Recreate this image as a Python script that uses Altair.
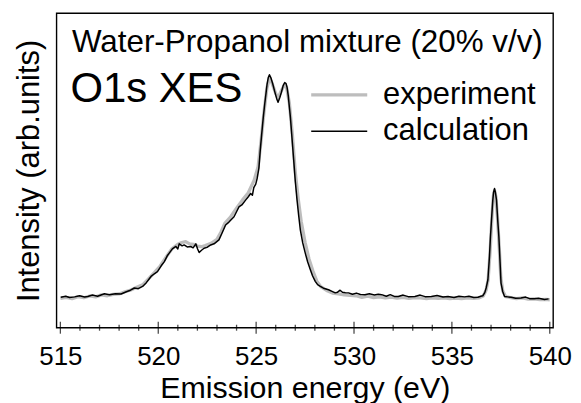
import altair as alt
import pandas as pd

FONT = "Liberation Sans"

# ---- data ----
SERIES = ["experiment", "calculation"]
SERIES_COLORS = ["#bdbdbd", "#000000"]

CALC_E = [515.02, 515.27, 515.47, 515.73, 515.98, 516.24, 516.40, 516.64, 516.90, 517.25,
          517.51, 517.81, 518.10, 518.37, 518.58, 518.78, 518.98, 519.20, 519.39, 519.63,
          519.80, 519.96, 520.15, 520.31, 520.46, 520.56, 520.72, 520.90, 521.00, 521.07,
          521.22, 521.32, 521.48, 521.66, 521.78, 521.92, 522.01, 522.09, 522.21, 522.34,
          522.49, 522.68, 522.85, 523.10, 523.26, 523.44, 523.61, 523.87, 524.12, 524.27,
          524.46, 524.58, 524.72, 524.81, 524.88, 524.98, 525.05, 525.14, 525.21, 525.27,
          525.36, 525.44, 525.51, 525.56, 525.62, 525.68, 525.75, 525.85, 525.95, 526.05,
          526.12, 526.21, 526.29, 526.38, 526.46, 526.53, 526.58, 526.64, 526.69, 526.75,
          526.83, 526.92, 527.00, 527.09, 527.17, 527.26, 527.38, 527.51, 527.63, 527.77,
          527.88, 528.02, 528.14, 528.28, 528.44, 528.70, 528.85, 529.04, 529.16, 529.29,
          529.41, 529.56, 529.72, 529.92, 530.12, 530.33, 530.56, 530.78, 531.04, 531.24,
          531.41, 531.65, 531.85, 532.06, 532.26, 532.51, 532.77, 533.11, 533.38, 533.63,
          533.95, 534.24, 534.55, 534.80, 535.11, 535.36, 535.65, 535.87, 536.12, 536.33,
          536.48, 536.58, 536.68, 536.75, 536.84, 536.92, 536.97, 537.04, 537.09, 537.13,
          537.18, 537.22, 537.28, 537.34, 537.40, 537.46, 537.51, 537.60, 537.69, 537.85,
          538.02, 538.26, 538.53, 538.77, 538.97, 539.21, 539.43, 539.73, 539.94]
CALC_I = [-0.3, 0.2, -0.4, -0.1, 0.4, -0.2, 0.1, 0.7, 0.2, 1.3,
          0.9, 1.3, 1.2, 2.2, 2.9, 3.9, 3.6, 4.6, 6.3, 9.1,
          10.3, 11.3, 13.9, 15.8, 18.4, 19.6, 21.5, 22.6, 21.5, 23.8,
          22.9, 23.3, 22.4, 22.6, 22.0, 23.8, 21.5, 19.9, 20.9, 21.8,
          22.2, 23.3, 23.8, 25.6, 28.7, 32.3, 33.6, 36.0, 40.4, 41.3,
          43.5, 44.8, 46.5, 45.7, 49.1, 50.7, 53.2, 57.8, 65.9, 71.9,
          80.3, 86.9, 92.0, 95.8, 98.7, 100.0, 98.7, 95.8, 92.4, 89.2,
          87.6, 89.7, 92.1, 95.1, 96.5, 96.0, 94.3, 90.6, 86.1, 80.9,
          71.7, 61.4, 52.0, 43.5, 36.8, 30.0, 24.2, 19.6, 15.7, 12.1,
          9.4, 6.9, 5.4, 4.6, 3.8, 3.1, 2.5, 1.7, 2.0, 2.9,
          2.0, 1.8, 1.7, 1.1, 1.6, 1.0, 0.9, 1.3, 0.7, 1.1,
          0.9, 0.2, 0.9, 0.1, 0.1, 0.7, 0.0, 0.1, 0.7, 0.0,
          0.1, 0.5, -0.2, 0.1, -0.4, 0.2, -0.1, 0.2, -0.4, -0.3,
          0.2, 0.4, 1.8, 3.9, 7.6, 18.1, 27.0, 36.8, 43.5, 47.1,
          48.7, 47.1, 43.5, 34.5, 27.0, 15.7, 6.1, 2.2, 0.1, -0.1,
          -0.3, -0.7, -0.6, -0.2, -0.9, -0.9, -0.7, -1.3, -1.0]

EXP_E = [515.0, 515.3, 515.6, 515.9, 516.2, 516.5, 516.8, 517.1, 517.4, 517.7,
         518.0, 518.3, 518.6, 518.9, 519.2, 519.5, 519.8, 520.1, 520.4, 520.7,
         521.0, 521.2, 521.4, 521.6, 521.8, 522.0, 522.2, 522.4, 522.7, 523.0,
         523.2, 523.4, 523.7, 524.0, 524.3, 524.6, 524.9, 525.1, 525.25, 525.4,
         525.55, 525.68, 525.8, 526.0, 526.12, 526.3, 526.45, 526.55, 526.7, 526.85,
         527.0, 527.15, 527.3, 527.5, 527.7, 527.9, 528.1, 528.3, 528.6, 528.9,
         529.2, 529.5, 529.8, 530.1, 530.4, 530.7, 531.0, 531.3, 531.6, 531.9,
         532.2, 532.5, 532.8, 533.1, 533.4, 533.7, 534.0, 534.3, 534.6, 534.9,
         535.2, 535.5, 535.8, 536.1, 536.4, 536.6, 536.75, 536.85, 536.95, 537.05,
         537.12, 537.18, 537.25, 537.33, 537.42, 537.5, 537.6, 537.75, 538.0, 538.3,
         538.6, 538.9, 539.2, 539.5, 539.8, 540.0]
EXP_I = [-0.8, -0.3, -0.9, 0.0, -0.5, 0.3, -0.1, 0.8, 0.4, 1.0,
         1.2, 2.2, 3.0, 4.2, 5.3, 8.0, 10.8, 13.8, 17.8, 21.6,
         23.6, 24.4, 24.8, 23.8, 23.6, 22.8, 22.5, 23.0, 24.0, 25.8,
         29.0, 33.0, 36.0, 39.8, 43.5, 46.8, 52.5, 58.5, 70.0, 83.0,
         94.0, 98.5, 96.5, 91.5, 89.5, 93.0, 95.5, 94.5, 87.0, 73.0,
         56.0, 44.0, 34.0, 24.5, 17.0, 11.5, 7.0, 4.5, 2.8, 1.6,
         1.2, 0.8, 0.6, 0.4, -0.3, 0.2, -0.4, -0.1, -0.6, -0.2,
         -0.7, -0.3, -0.8, -0.4, -0.6, -0.9, -0.5, -0.8, -0.5, -0.9,
         -0.7, -0.9, -0.6, -0.8, -0.5, 0.3, 3.0, 7.5, 20.0, 36.5,
         45.5, 47.8, 45.0, 35.5, 22.0, 8.5, 2.5, 0.0, -0.4, -0.9,
         -0.6, -1.1, -1.0, -1.3, -1.2, -1.4]

X_LABEL_VALUES = [515, 520, 525, 530, 535, 540]
X_TICK_VALUES = list(range(515, 541))
X_DOMAIN = [514.8, 540.17]
Y_DOMAIN = [-14.0, 127.7]

TITLE_TEXT = "Water-Propanol mixture (20% v/v)"
LABEL_TEXT = "O1s XES"
X_TITLE = "Emission energy (eV)"
Y_TITLE = "Intensity (arb.units)"

W, H = 499, 316

calc_df = pd.DataFrame({"E": CALC_E, "I": CALC_I, "series": "calculation"})
exp_df = pd.DataFrame({"E": EXP_E, "I": EXP_I, "series": "experiment"})
tick_df = pd.DataFrame({"E": X_TICK_VALUES})
title_df = pd.DataFrame({"text": [TITLE_TEXT]})
label_df = pd.DataFrame({"text": [LABEL_TEXT]})

xscale = alt.Scale(domain=X_DOMAIN, nice=False, zero=False)
yscale = alt.Scale(domain=Y_DOMAIN, nice=False, zero=False)

legend = alt.Legend(
    orient="none", legendX=268.6, legendY=66.5, padding=0,
    symbolType="M-3,0H3", symbolSize=352, labelOffset=28.6, rowPadding=4.7,
    labelFontSize=31, labelFont=FONT, labelColor="black", labelLimit=0,
)

x_axis = alt.Axis(
    values=X_LABEL_VALUES, ticks=False, domain=False, grid=False,
    labelFontSize=26, labelFont=FONT, labelColor="black",
    labelBaseline="alphabetic", labelPadding=37, labelFlush=False,
    titleFontSize=30.5, titleFont=FONT, titleColor="black", titleFontWeight="normal",
    titleBaseline="alphabetic", titleX=W / 2, titleY=70.5, titleAlign="center",
)
x_enc = alt.X("E:Q", scale=xscale, title=X_TITLE, axis=x_axis)
y_enc = alt.Y(
    "I:Q", scale=yscale, title=Y_TITLE,
    axis=alt.Axis(
        labels=False, ticks=False, domain=False, grid=False,
        titleFontSize=31, titleFont=FONT, titleColor="black", titleFontWeight="normal",
        titleBaseline="alphabetic", titleAngle=270, titleX=-18.2, titleY=H / 2,
        titleAlign="center",
    ),
)

color_enc = alt.Color("series:N", scale=alt.Scale(domain=SERIES, range=SERIES_COLORS),
                      title=None, legend=legend)
width_enc = alt.StrokeWidth("series:N", scale=alt.Scale(domain=SERIES, range=[3.3, 1.5]),
                            title=None, legend=legend)

exp_line = alt.Chart(exp_df).mark_line(strokeJoin="round").encode(
    x=x_enc, y=y_enc, color=color_enc, strokeWidth=width_enc)
calc_line = alt.Chart(calc_df).mark_line(strokeJoin="round").encode(
    x=x_enc, y=y_enc, color=color_enc, strokeWidth=width_enc)

ticks = alt.Chart(tick_df).transform_calculate(
    len="datum.E % 5 === 0 ? 12 : 6"
).mark_tick(orient="vertical", thickness=1.3, color="black").encode(
    x=x_enc,
    y=alt.value(H),
    size=alt.Size("len:Q", scale=None),
)

title_text = alt.Chart(title_df).mark_text(
    align="left", baseline="alphabetic", fontSize=31.5, font=FONT, color="black"
).encode(x=alt.value(15.5), y=alt.value(39.4), text="text:N")

label_text = alt.Chart(label_df).mark_text(
    align="left", baseline="alphabetic", fontSize=42, font=FONT, color="black"
).encode(x=alt.value(14), y=alt.value(89.4), text="text:N")

chart = alt.layer(exp_line, calc_line, ticks, title_text, label_text).properties(
    width=W, height=H,
    autosize=alt.AutoSizeParams(type="none"),
    padding={"left": 48.7, "top": 4.3, "right": 20, "bottom": 76},
).configure(font=FONT, background="white").configure_view(
    stroke="black", strokeWidth=1.4
)

chart.save("out.html", embed_options={"renderer": "svg", "actions": False})
